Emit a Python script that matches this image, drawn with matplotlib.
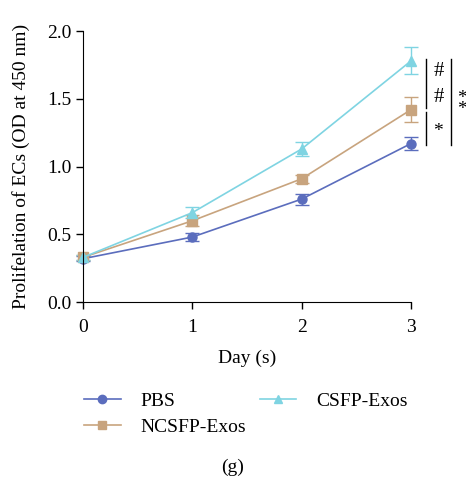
import numpy as np
import matplotlib.pyplot as plt
from matplotlib.lines import Line2D

plt.rcParams['font.family'] = ['Liberation Serif', 'DejaVu Serif']

# Data
days = [0, 1, 2, 3]
pbs = [0.32, 0.48, 0.76, 1.17]
pbs_err = [0.02, 0.03, 0.04, 0.05]
ncsfp = [0.33, 0.60, 0.91, 1.42]
ncsfp_err = [0.02, 0.04, 0.03, 0.09]
csfp = [0.33, 0.66, 1.13, 1.78]
csfp_err = [0.02, 0.04, 0.05, 0.10]

c_pbs = '#5b6dbd'
c_nc = '#c8a47e'
c_cs = '#7fd4e2'

fig = plt.figure(figsize=(4.66, 4.78), dpi=100)
ax = fig.add_axes([0.178, 0.368, 0.704, 0.567])

kw = dict(capsize=5, elinewidth=1.0, capthick=1.0, linewidth=1.2, markersize=6.5, clip_on=False)
ax.errorbar(days, pbs, yerr=pbs_err, color=c_pbs, marker='o', **kw)
ax.errorbar(days, ncsfp, yerr=ncsfp_err, color=c_nc, marker='s', **kw)
ax.errorbar(days, csfp, yerr=csfp_err, color=c_cs, marker='^', **kw)

ax.set_xlim(0, 3)
ax.set_ylim(0, 2.0)
ax.set_xticks(days)
ax.set_yticks([0, 0.5, 1.0, 1.5, 2.0])
ax.set_yticklabels(['0.0', '0.5', '1.0', '1.5', '2.0'])
ax.tick_params(direction='out', length=5, width=1, labelsize=14)
ax.tick_params(axis='x', pad=7)
ax.spines['top'].set_visible(False)
ax.spines['right'].set_visible(False)
ax.set_xlabel('Day (s)', fontsize=14, labelpad=10)
ax.set_ylabel('Prolifelation of ECs (OD at 450 nm)', fontsize=14, labelpad=12)

# significance brackets
ax.plot([3.137, 3.137], [1.793, 1.432], color='black', lw=1, clip_on=False)
ax.plot([3.137, 3.137], [1.402, 1.159], color='black', lw=1, clip_on=False)
ax.plot([3.366, 3.366], [1.793, 1.159], color='black', lw=1, clip_on=False)
ax.text(3.25, 1.70, '#', fontsize=15, ha='center', va='center', clip_on=False)
ax.text(3.25, 1.51, '#', fontsize=15, ha='center', va='center', clip_on=False)
ax.text(3.25, 1.26, '*', fontsize=14, ha='center', va='center', clip_on=False)
ax.text(3.47, 1.46, '*\n*', fontsize=14, ha='center', va='center',
        linespacing=0.55, clip_on=False)

handles = [Line2D([], [], color=c_pbs, marker='o', lw=1.2, markersize=6),
           Line2D([], [], color=c_nc, marker='s', lw=1.2, markersize=6),
           Line2D([], [], color=c_cs, marker='^', lw=1.2, markersize=6)]
labels = ['PBS', 'NCSFP-Exos', 'CSFP-Exos']
fig.legend(handles, labels, ncol=2, frameon=False, fontsize=14,
           loc='upper left', bbox_to_anchor=(0.18, 0.18),
           handlelength=1.9, handletextpad=1.0, columnspacing=0.7,
           labelspacing=0.45, borderaxespad=0, borderpad=0)

fig.text(0.5, 0.005, '(g)', ha='center', va='bottom', fontsize=14)

fig.savefig('out.png', dpi=100)
